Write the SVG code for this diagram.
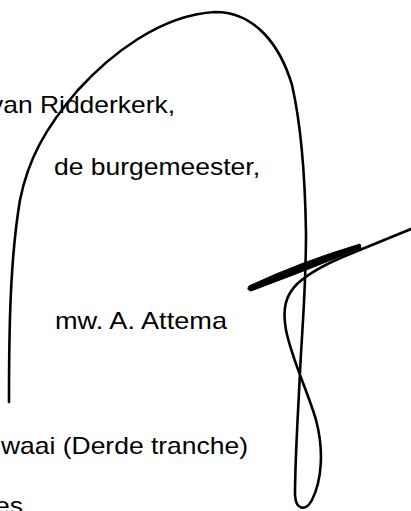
<svg xmlns="http://www.w3.org/2000/svg" width="411" height="511" viewBox="0 0 411 511">
<style>
.t{font-family:"Liberation Sans",Arial,sans-serif;font-size:24px;fill:#000}
.sig{fill:none;stroke:#000;stroke-width:2.6;stroke-linecap:round;stroke-linejoin:round}
</style>
<rect width="411" height="511" fill="#fff"/>
<g id="text">
<text class="t" x="-10" y="113" textLength="185" lengthAdjust="spacingAndGlyphs">van Ridderkerk,</text>
<text class="t" x="54" y="175" textLength="206" lengthAdjust="spacingAndGlyphs">de burgemeester,</text>
<text class="t" x="55" y="329" textLength="172" lengthAdjust="spacingAndGlyphs">mw. A. Attema</text>
<text class="t" x="1" y="454" textLength="247" lengthAdjust="spacingAndGlyphs">waai (Derde tranche)</text>
<text class="t" x="-5" y="514" textLength="28" lengthAdjust="spacingAndGlyphs">es</text>
</g>
<g id="signature">
<path class="sig" d="M9,402 C9,330 10,260 20,200 C28,160 45,128 78,90 C110,55 160,15 215,12 C255,12 280,45 292,85 C300,120 305,170 306,233 C306,290 302,330 300,372 C298,415 295,460 295,495 C296,511 306,511 312,500 C322,480 324,450 316,420 C308,392 292,360 286,330 C282,308 286,295 297,284 C310,272 330,262 350,254 L411,229"/>
<path d="M249,286 Q300,262 360,244 L361,248 Q305,271 251,291 Q246,290 249,286 Z" fill="#000" stroke="#000" stroke-width="1" stroke-linejoin="round"/>
</g>
</svg>
